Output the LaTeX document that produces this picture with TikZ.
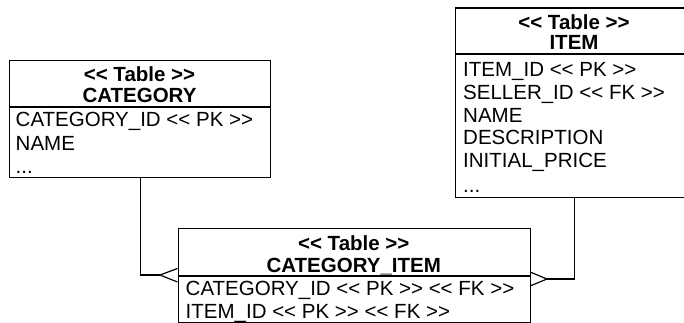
\documentclass[tikz,border=0pt]{standalone}
\usepackage{fontspec}
\setmainfont{Liberation Sans}[Ligatures=TeXOff]
\begin{document}
\begin{tikzpicture}[x=1pt,y=-1pt,
  tbl/.style={draw=black, line width=1.2pt, rectangle, inner sep=0pt, anchor=north west},
  sep/.style={draw=black, line width=1.2pt},
  conn/.style={draw=black, line width=1.2pt},
  hd/.style={anchor=base, inner sep=0pt, font=\fontsize{20.5}{23}\selectfont\bfseries},
  row/.style={anchor=base west, inner sep=0pt, font=\fontsize{20.5}{23}\selectfont}]
\useasboundingbox (0,0) rectangle (684,323);
\clip (0,0) rectangle (684,323);
% CATEGORY
\node[tbl, minimum width=261pt, minimum height=117pt] (cat) at (9,60) {};
\draw[sep] (9,107) -- (270,107);
\node[hd] (cath1) at (139.5,81.5) {<< Table >>};
\node[hd] (cath2) at (139.5,103) {CATEGORY};
\node[row] (catr1) at (15.5,127) {CATEGORY\_ID << PK >>};
\node[row] (catr2) at (15.5,150) {NAME};
\node[row] (catr3) at (15.5,173.5) {...};
% ITEM
\node[tbl, minimum width=238pt, minimum height=189.5pt] (item) at (455,7.5) {};
\draw[sep] (455,54) -- (693,54);
\node[hd] (itemh1) at (574,29.5) {<< Table >>};
\node[hd] (itemh2) at (574,50) {ITEM};
\node[row] (itemr1) at (463,77) {ITEM\_ID << PK >>};
\node[row] (itemr2) at (463,99.7) {SELLER\_ID << FK >>};
\node[row] (itemr3) at (463,122.2) {NAME};
\node[row] (itemr4) at (463,144.7) {DESCRIPTION};
\node[row] (itemr5) at (463,167.4) {INITIAL\_PRICE};
\node[row] (itemr6) at (463,192.5) {...};
% CATEGORY_ITEM
\node[tbl, minimum width=352.5pt, minimum height=94pt] (ci) at (177.5,228) {};
\draw[sep] (177.5,276) -- (530,276);
\node[hd] (cih1) at (353.75,250) {<< Table >>};
\node[hd] (cih2) at (353.75,272) {CATEGORY\_ITEM};
\node[row] (cir1) at (185.5,295.7) {CATEGORY\_ID << PK >> << FK >>};
\node[row] (cir2) at (185.5,318.3) {ITEM\_ID << PK >> << FK >>};
% connectors
\coordinate (ltip) at (160,275);
\coordinate (lup) at (177.5,268.5);
\coordinate (llo) at (177.5,282);
\coordinate (rtip) at (547,279);
\coordinate (rup) at (530,272);
\coordinate (rlo) at (530,286);
\draw[conn] (cat.south) |- (ltip);
\draw[conn] (lup) -- (ltip) -- (llo);
\draw[conn] (item.south) |- (rtip);
\draw[conn] (rup) -- (rtip) -- (rlo);
\end{tikzpicture}
\end{document}
